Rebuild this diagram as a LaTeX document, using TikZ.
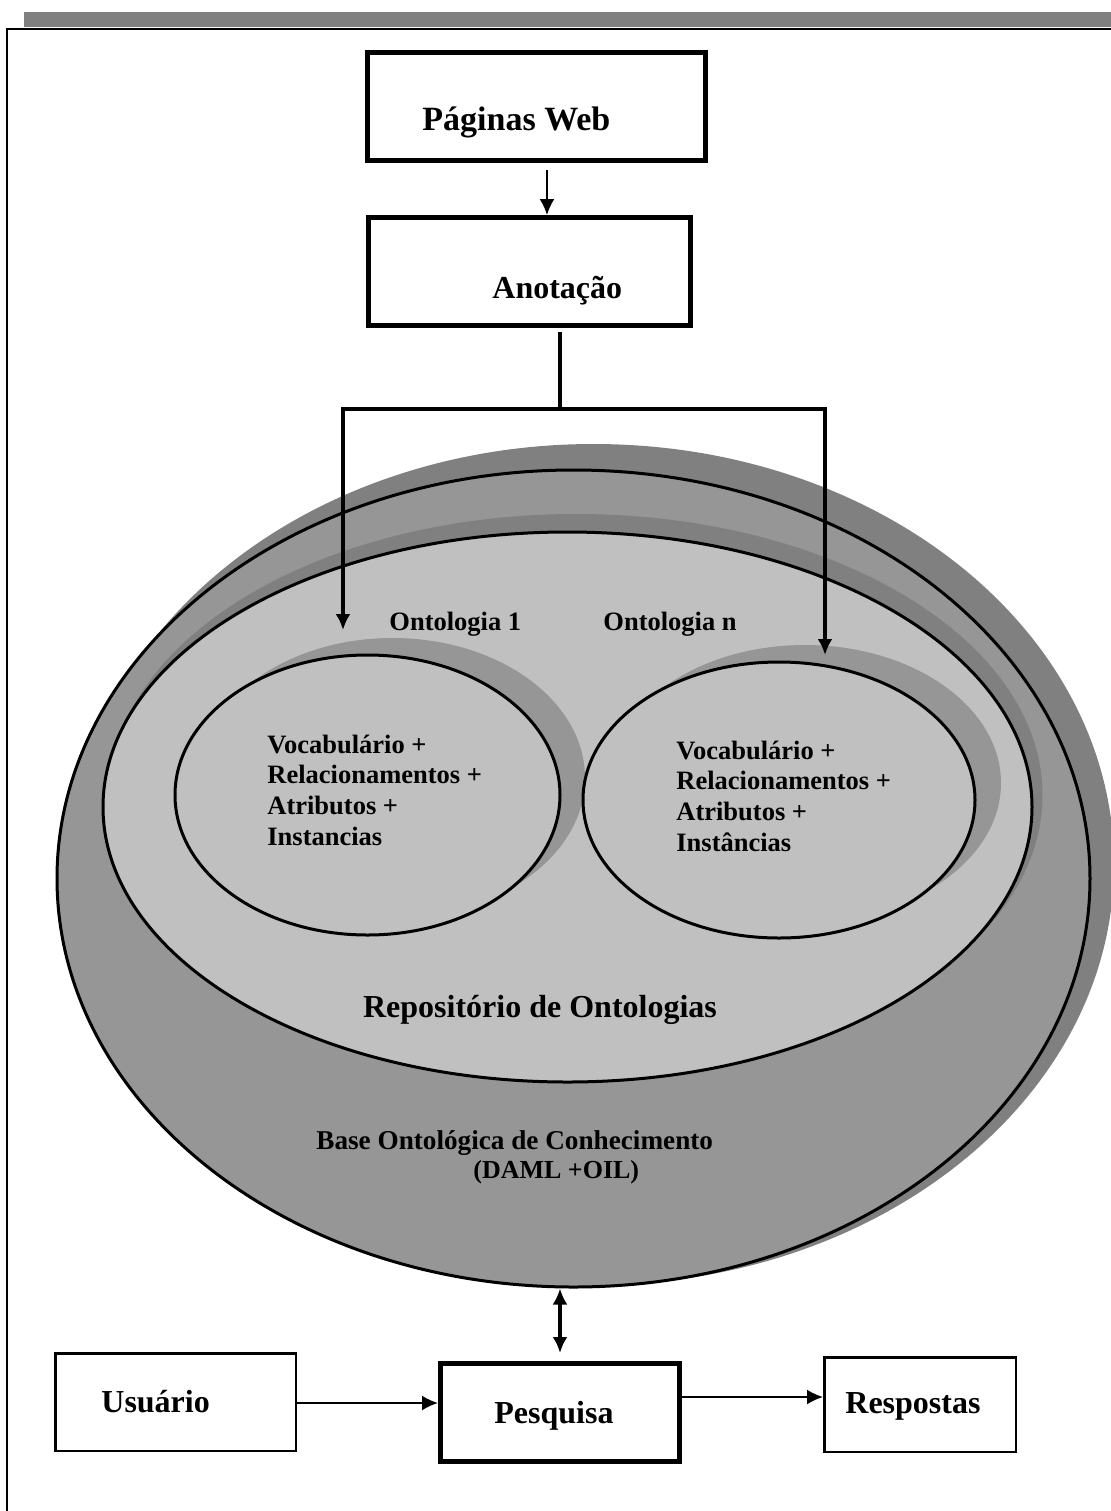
\documentclass[tikz,border=0pt]{standalone}
\usepackage{fontspec}
\setmainfont{Liberation Serif}
\usetikzlibrary{shapes.geometric,arrows.meta}
\definecolor{gA}{RGB}{128,128,128}
\definecolor{gB}{RGB}{150,150,150}
\definecolor{gC}{RGB}{192,192,192}
\begin{document}
\begin{tikzpicture}[x=0.5pt,y=-0.5pt,
  box/.style={draw, rectangle, line width=2.5pt, inner sep=0pt},
  tbox/.style={draw, rectangle, line width=1.25pt, inner sep=0pt},
  ell/.style={ellipse, draw, line width=1.5pt, inner sep=0pt},
  shad/.style={ellipse, inner sep=0pt},
  big/.style={font=\fontsize{16}{19}\selectfont\bfseries, inner sep=0pt},
  med/.style={font=\fontsize{13.25}{15.35}\selectfont\bfseries, inner sep=0pt},
  arrthin/.style={line width=1pt, -{Latex[length=8pt,width=7.5pt]}},
  lnthick/.style={line width=1.75pt},
  arrthick/.style={line width=1.75pt, -{Latex[length=8pt,width=7.5pt]}},
]
\useasboundingbox (0,0) rectangle (1110,1511);
% page frame
\fill[gA] (24,12) rectangle (1120,27);
\draw[line width=1pt] (7,1530) -- (7,28.5) -- (1130,28.5);

% ellipses
\node[shad, fill=gA, minimum width=520.5pt, minimum height=420.5pt] (oshad) at (593.5,864.5) {};
\node[ell, fill=gB, minimum width=516.5pt, minimum height=408.5pt] (outer) at (573.5,878.5) {};
\node[shad, fill=gA, minimum width=466.5pt, minimum height=281pt] (ishad) at (576,795) {};
\node[ell, fill=gC, minimum width=464.5pt, minimum height=275pt] (inner) at (567.5,807) {};
\node[shad, fill=gB, minimum width=192.5pt, minimum height=140pt] (lshad) at (392.5,778) {};
\node[shad, fill=gB, minimum width=196pt, minimum height=138pt] (rshad) at (805,783) {};
\node[ell, fill=gC, minimum width=192.5pt, minimum height=140pt] (onto1) at (367.5,795) {};
\node[ell, fill=gC, minimum width=196pt, minimum height=138pt] (onton) at (779,800) {};

% boxes
\node[box, minimum width=169pt, minimum height=54pt] (pag) at (536.5,106.5) {};
\node[box, minimum width=161pt, minimum height=54pt] (anot) at (529.5,271.5) {};
\node[tbox, minimum width=120.25pt, minimum height=48.75pt] (usu) at (175.5,1402) {};
\node[box, minimum width=119.5pt, minimum height=49pt] (pesq) at (560,1412.5) {};
\node[tbox, minimum width=95.75pt, minimum height=47.25pt] (resp) at (920,1404.5) {};

% texts
\node[anchor=base west, inner sep=0pt, font=\fontsize{17}{20}\selectfont\bfseries] (tpag) at (422,130) {Páginas Web};
\node[big, anchor=base west] (tanot) at (492,298) {Anotação};
\node[med, anchor=base west] (tont1) at (389,630) {Ontologia 1};
\node[med, anchor=base west] (tontn) at (603,630) {Ontologia n};
\node[med, anchor=base west] (tlist1) at (267,753) {\begin{tabular}[t]{@{}l@{}}Vocabulário +\\Relacionamentos +\\Atributos +\\Instancias\end{tabular}};
\node[med, anchor=base west] (tlistn) at (676,759) {\begin{tabular}[t]{@{}l@{}}Vocabulário +\\Relacionamentos +\\Atributos +\\Instâncias\end{tabular}};
\node[big, anchor=base] (trepo) at (540,1017) {Repositório de Ontologias};
\node[anchor=base west, inner sep=0pt, font=\fontsize{13.6}{16}\selectfont\bfseries] (tbase) at (316,1149) {Base Ontológica de Conhecimento};
\node[anchor=base west, inner sep=0pt, font=\fontsize{13}{15}\selectfont\bfseries] (tdaml) at (473,1178) {(DAML +OIL)};
\node[big, anchor=base west] (tusu) at (101,1412) {Usuário};
\node[big, anchor=base west] (tpesq) at (494,1423) {Pesquisa};
\node[big, anchor=base west] (tresp) at (845,1413) {Respostas};

% connectors
\coordinate (split) at (560,409);
\coordinate (tl) at (343,409);
\coordinate (tr) at (825,409);
\coordinate (tip1) at (343,630);
\coordinate (tipn) at (825,655);
\draw[arrthin, shorten <=3.5pt] ([xshift=5.25pt]pag.south) -- ([xshift=8.75pt]anot.north);
\draw[lnthick] ([xshift=15.25pt,yshift=-2pt]anot.south) -- (split);
\draw[lnthick, line cap=rect] (tl) -- (tr);
\draw[arrthick] (tl) -- (tip1);
\draw[arrthick] (tr) -- (tipn);
\draw[line width=1.75pt, {Latex[length=8pt,width=7.5pt]}-{Latex[length=8pt,width=7.5pt]}, shorten >=4pt] (pesq.north |- outer.south) -- (pesq.north);
\draw[arrthin] ([yshift=-0.5pt]usu.east) -- ([yshift=-0.5pt]usu.east -| pesq.west);
\draw[arrthin] ([yshift=7.75pt]pesq.east) -- ([yshift=7.75pt]pesq.east -| resp.west);
\end{tikzpicture}
\end{document}
